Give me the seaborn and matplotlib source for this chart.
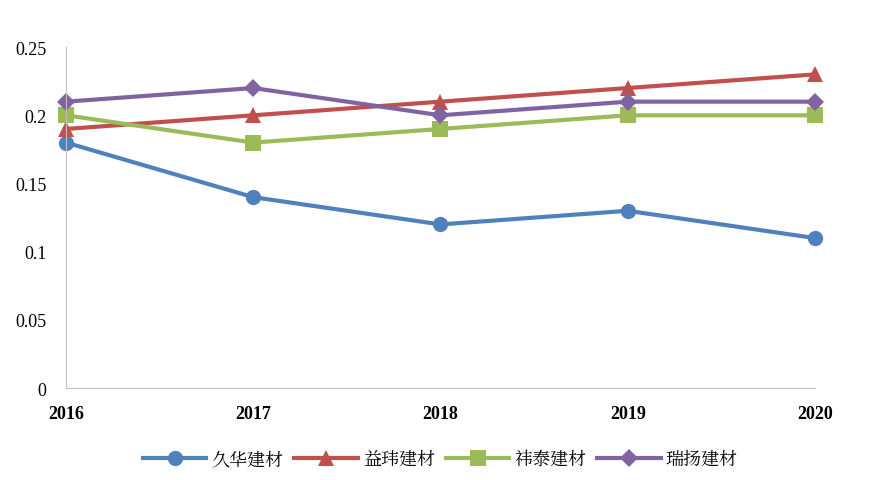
import matplotlib
matplotlib.use("Agg")
import matplotlib.pyplot as plt
from matplotlib import font_manager
import seaborn as sns
import pandas as pd

years = [2016, 2017, 2018, 2019, 2020]
names = ["久华建材", "益玮建材", "祎泰建材", "瑞扬建材"]
jiuhua = [0.18, 0.14, 0.12, 0.13, 0.11]
yiwei = [0.19, 0.20, 0.21, 0.22, 0.23]
yitai = [0.20, 0.18, 0.19, 0.20, 0.20]
ruiyang = [0.21, 0.22, 0.20, 0.21, 0.21]
yticks = [0, 0.05, 0.1, 0.15, 0.2, 0.25]
ylabels = ["0", "0.05", "0.1", "0.15", "0.2", "0.25"]

cjk = None
for f in font_manager.fontManager.ttflist:
    if "CJK SC" in f.name or ("CJK" in f.name and cjk is None):
        cjk = f.name
        if "SC" in f.name:
            break
plt.rcParams["font.family"] = ["Liberation Serif", cjk or "Noto Sans CJK SC"]

rows = []
for n, vals in zip(names, [jiuhua, yiwei, yitai, ruiyang]):
    for y, v in zip(years, vals):
        rows.append({"year": y, "value": v, "company": n})
df = pd.DataFrame(rows)

colors = ["#4F81BD", "#C0504D", "#9BBB59", "#8064A2"]
markers = ["o", "^", "s", "D"]
msizes = [11, 12, 11, 9]

fig = plt.figure(figsize=(8.78, 4.81), dpi=100)
ax = fig.add_axes([0.0752, 0.191, 0.853, 0.709])
for n, c, m, s in zip(names, colors, markers, msizes):
    sns.lineplot(data=df[df.company == n], x="year", y="value", color=c, marker=m,
                 markersize=s, markeredgewidth=0, linewidth=3, ax=ax, label=n)

ax.set_xlim(2016, 2020)
ax.set_ylim(0, 0.25)
ax.set_xticks(years)
ax.set_xticklabels([str(y) for y in years], fontsize=13, fontweight="bold")
ax.set_yticks(yticks)
ax.set_yticklabels(ylabels, fontsize=13)
ax.tick_params(length=0, pad=12)
ax.tick_params(axis="y", pad=14)
ax.set_xlabel("")
ax.set_ylabel("")
for sp in ["top", "right"]:
    ax.spines[sp].set_visible(False)
for sp in ["left", "bottom"]:
    ax.spines[sp].set_color("#BFBFBF")
for l in ax.lines:
    l.set_clip_on(False)
ax.legend(loc="upper center", bbox_to_anchor=(0.5, -0.13), ncol=4, frameon=False,
          prop={"family": [cjk or "Noto Sans CJK SC"], "size": 13}, handlelength=3.5,
          columnspacing=0.6, handletextpad=0.3)
fig.savefig("out.png", dpi=100)
